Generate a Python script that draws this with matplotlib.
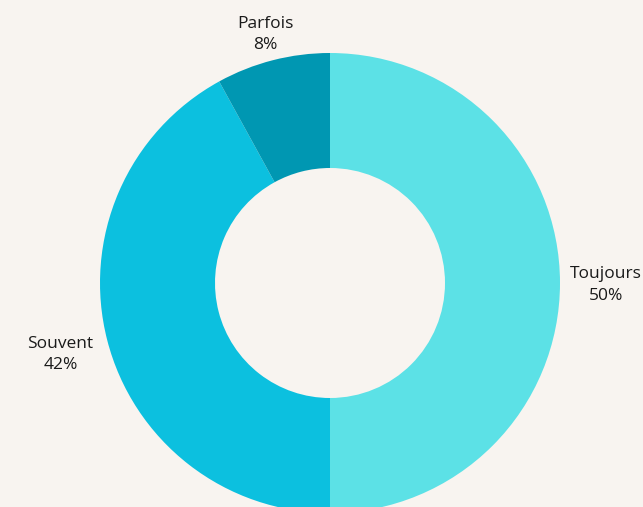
import numpy as np
import matplotlib.pyplot as plt

labels = ['Toujours', 'Souvent', 'Parfois']
values = [50, 42, 8]
colors = ['#5ce1e6', '#0cc0df', '#0097b2']
label_dist = [1.2, 1.21, 1.124]

BG = '#f8f4f0'
W, H = 643, 507
CX, CY, R = 330, H - 283, 230

fig = plt.figure(figsize=(W / 100, H / 100), dpi=100, facecolor=BG)
ax = fig.add_axes([0, 0, 1, 1])
ax.set_facecolor(BG)

wedges, _ = ax.pie(values, colors=colors, startangle=90, counterclock=False,
                   center=(CX, CY), radius=R,
                   wedgeprops=dict(width=R / 2, linewidth=0))

# labels at the middle angle of each wedge
for w, lab, v, d in zip(wedges, labels, values, label_dist):
    ang = np.deg2rad((w.theta1 + w.theta2) / 2)
    x = CX + d * R * np.cos(ang)
    y = CY + d * R * np.sin(ang) - 2
    ax.text(x, y, f'{lab}\n{v}%', ha='center', va='center', fontsize=12.5,
            family=['Open Sans', 'DejaVu Sans'], color='#1a1a1a', linespacing=1.45)

ax.set_xlim(0, W)
ax.set_ylim(0, H)
ax.set_aspect('equal')
ax.axis('off')

fig.savefig('out.png', dpi=100, facecolor=BG)
